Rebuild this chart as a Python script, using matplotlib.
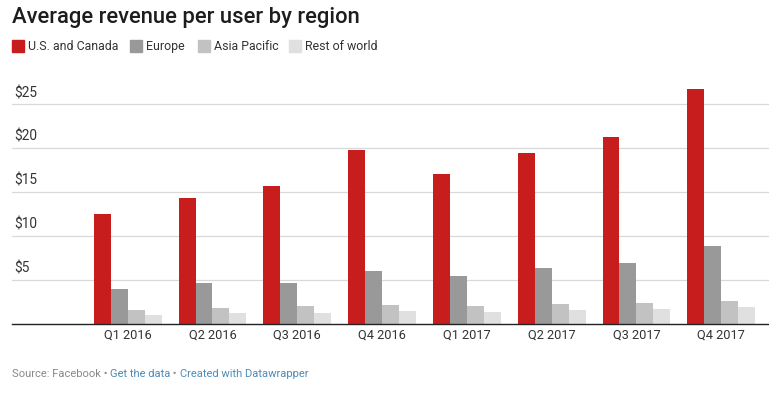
import numpy as np
import matplotlib
matplotlib.use("Agg")
import matplotlib.pyplot as plt
from matplotlib import transforms

plt.rcParams['font.family'] = ['Roboto', 'DejaVu Sans']

quarters = ["Q1 2016", "Q2 2016", "Q3 2016", "Q4 2016",
            "Q1 2017", "Q2 2017", "Q3 2017", "Q4 2017"]
us_canada = [12.43, 14.34, 15.65, 19.81, 17.07, 19.38, 21.21, 26.76]
europe = [3.96, 4.64, 4.66, 5.98, 5.42, 6.35, 6.92, 8.86]
asia_pacific = [1.58, 1.73, 1.96, 2.07, 1.98, 2.20, 2.38, 2.54]
rest_of_world = [1.00, 1.14, 1.23, 1.41, 1.32, 1.52, 1.64, 1.86]
series_names = ["U.S. and Canada", "Europe", "Asia Pacific", "Rest of world"]
y_ticks = [5, 10, 15, 20, 25]

colors = ["#c71e1d", "#999999", "#c2c2c2", "#e0e0e0"]
W, H = 769, 394

fig = plt.figure(figsize=(W / 100, H / 100), dpi=100)
# axes placed in pixel terms
left, right, top, bottom = 12, 769, 85, 323.5
ax = fig.add_axes([left / W, 1 - bottom / H, (right - left) / W, (bottom - top) / H])

x = np.arange(len(quarters))
bw = 0.2
for k, vals in enumerate([us_canada, europe, asia_pacific, rest_of_world]):
    ax.bar(x + (k - 1.5) * bw, vals, width=bw, color=colors[k], zorder=3, linewidth=0)

ax.set_xlim(-1.364, 7.563)
ax.set_ylim(0, 27.16)

for s in ["top", "right", "left"]:
    ax.spines[s].set_visible(False)
ax.spines["bottom"].set_color("#222222")
ax.spines["bottom"].set_linewidth(1.0)
ax.spines["bottom"].set_zorder(4)

ax.set_yticks(y_ticks)
ax.set_yticklabels([])
ax.tick_params(axis="y", length=0)
ax.grid(axis="y", color="#d9d9d9", linewidth=0.9, zorder=0)

ax.set_xticks(x)
ax.set_xticklabels(quarters, fontsize=9.2, color="#333333")
ax.tick_params(axis="x", length=0, pad=4)

trans = transforms.blended_transform_factory(ax.transAxes, ax.transData)
for v in y_ticks:
    ax.text(0.003, v + 0.45, f"${v}", transform=trans, fontsize=9.8,
            color="#333333", va="bottom", ha="left")

# title
fig.text(12 / W, 1 - 17 / H, "Average revenue per user by region", fontsize=15.8,
         color="#1d1d1d", va="center", ha="left", fontweight="medium")

# legend
leg_x = [12, 130, 198, 289]
for k, name in enumerate(series_names):
    fig.patches.append(plt.Rectangle((leg_x[k] / W, 1 - 52 / H), 12 / W, 12 / H,
                                     transform=fig.transFigure, color=colors[k]))
    fig.text((leg_x[k] + 16) / W, 1 - 46.5 / H, name, fontsize=8.9, color="#333333",
             va="center", ha="left")

# footer
fig.canvas.draw()
renderer = fig.canvas.get_renderer()
parts = [("Source: Facebook", "#888888"), (" \u2022 ", "#888888"),
         ("Get the data", "#4a8cba"), (" \u2022 ", "#888888"),
         ("Created with Datawrapper", "#4a8cba")]
xpos = 12
for txt, c in parts:
    t = fig.text(xpos / W, 1 - 374 / H, txt, fontsize=8.0, color=c, va="center", ha="left")
    bb = t.get_window_extent(renderer=renderer)
    xpos += bb.width

fig.savefig("out.png", dpi=100)
